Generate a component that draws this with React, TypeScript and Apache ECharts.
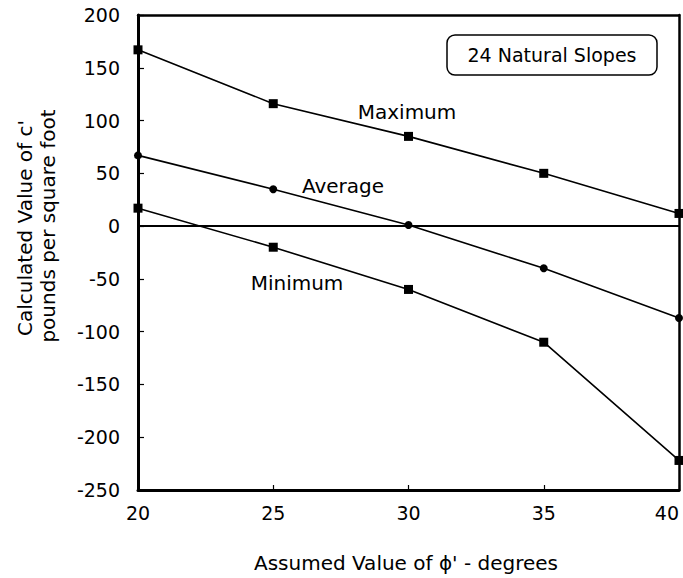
import React, { useEffect, useRef } from "react";
import * as echarts from "echarts";

const phiValues = [20, 25, 30, 35, 40];
const maximumValues = [167, 116, 85, 50, 12];
const averageValues = [67, 35, 1, -40, -87];
const minimumValues = [17, -20, -60, -110, -222];

const FONT = "DejaVu Sans";

export default function App() {
  const ref = useRef<HTMLDivElement>(null);
  useEffect(() => {
    if (!ref.current) return;
    const chart = echarts.init(ref.current, null, { renderer: "svg" });
    const pair = (vals: number[]) => phiValues.map((x, i) => [x, vals[i]]);
    const lineStyle = { color: "#000", width: 1.6 };
    chart.setOption({
      animation: false,
      backgroundColor: "#fff",
      grid: { left: 138, right: 4, top: 15, bottom: 88 },
      xAxis: [
        {
          type: "value",
          min: 20,
          max: 40,
          interval: 5,
          axisLine: { show: true, onZero: false, lineStyle: { color: "#000", width: 3 } },
          axisTick: { show: true, inside: true, length: 5, lineStyle: { color: "#000", width: 1.2 } },
          axisLabel: {
            color: "#000",
            fontFamily: FONT,
            fontSize: 19,
            margin: 13,
            alignMaxLabel: "right",
          },
          splitLine: { show: false },
        },
        {
          type: "value",
          position: "top",
          min: 20,
          max: 40,
          axisLine: { show: true, onZero: false, lineStyle: { color: "#000", width: 2.5 } },
          axisTick: { show: false },
          axisLabel: { show: false },
          splitLine: { show: false },
        },
      ],
      yAxis: [
        {
          type: "value",
          min: -250,
          max: 200,
          interval: 50,
          axisLine: { show: true, onZero: false, lineStyle: { color: "#000", width: 3 } },
          axisTick: { show: true, inside: true, length: 6, lineStyle: { color: "#000", width: 1.2 } },
          axisLabel: { color: "#000", fontFamily: FONT, fontSize: 19, margin: 18 },
          splitLine: { show: false },
        },
        {
          type: "value",
          position: "right",
          min: -250,
          max: 200,
          axisLine: { show: true, onZero: false, lineStyle: { color: "#000", width: 2.5 } },
          axisTick: { show: false },
          axisLabel: { show: false },
          splitLine: { show: false },
        },
      ],
      series: [
        {
          name: "Maximum",
          type: "line",
          data: pair(maximumValues),
          symbol: "rect",
          symbolSize: 9,
          itemStyle: { color: "#000" },
          lineStyle,
          markLine: {
            silent: true,
            symbol: ["none", "none"],
            label: { show: false },
            lineStyle: { color: "#000", width: 1.8, type: "solid" },
            data: [{ yAxis: 0 }],
          },
        },
        {
          name: "Average",
          type: "line",
          data: pair(averageValues),
          symbol: "circle",
          symbolSize: 8,
          itemStyle: { color: "#000" },
          lineStyle,
        },
        {
          name: "Minimum",
          type: "line",
          data: pair(minimumValues),
          symbol: "rect",
          symbolSize: 9,
          itemStyle: { color: "#000" },
          lineStyle,
        },
      ],
      graphic: [
        {
          type: "text",
          x: 25,
          y: 228,
          rotation: Math.PI / 2,
          style: {
            text: "Calculated Value of c'",
            fontFamily: FONT,
            fontSize: 20,
            fill: "#000",
            align: "center",
            verticalAlign: "middle",
          },
        },
        {
          type: "text",
          x: 48,
          y: 226,
          rotation: Math.PI / 2,
          style: {
            text: "pounds per square foot",
            fontFamily: FONT,
            fontSize: 20,
            fill: "#000",
            align: "center",
            verticalAlign: "middle",
          },
        },
        {
          type: "text",
          x: 406,
          y: 563,
          style: {
            text: "Assumed Value of \u03d5' - degrees",
            fontFamily: FONT,
            fontSize: 20,
            fill: "#000",
            align: "center",
            verticalAlign: "middle",
          },
        },
        {
          type: "text",
          x: 407,
          y: 112,
          style: { text: "Maximum", fontFamily: FONT, fontSize: 20, fill: "#000", align: "center", verticalAlign: "middle" },
        },
        {
          type: "text",
          x: 343,
          y: 186,
          style: { text: "Average", fontFamily: FONT, fontSize: 20, fill: "#000", align: "center", verticalAlign: "middle" },
        },
        {
          type: "text",
          x: 297,
          y: 283,
          style: { text: "Minimum", fontFamily: FONT, fontSize: 20, fill: "#000", align: "center", verticalAlign: "middle" },
        },
        {
          type: "rect",
          shape: { x: 447, y: 35, width: 210, height: 40, r: 8 },
          style: { fill: "#fff", stroke: "#000", lineWidth: 1.5 },
        },
        {
          type: "text",
          x: 552,
          y: 55,
          style: { text: "24 Natural Slopes", fontFamily: FONT, fontSize: 19, fill: "#000", align: "center", verticalAlign: "middle" },
        },
      ],
    });
    return () => chart.dispose();
  }, []);
  return <div ref={ref} style={{ width: 683, height: 578, position: "absolute", left: 0, top: 0 }} />;
}
